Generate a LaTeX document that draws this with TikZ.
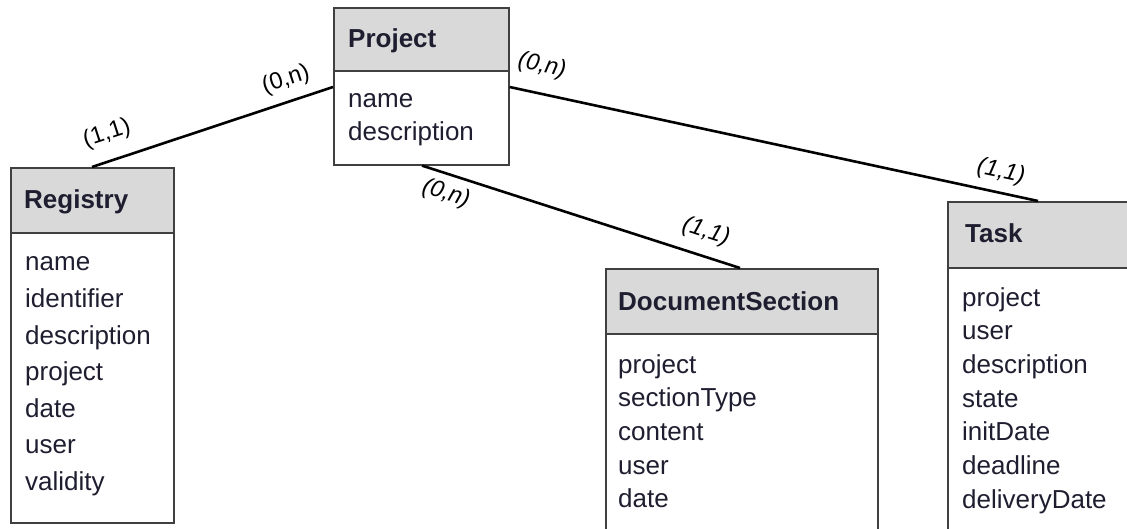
\documentclass[tikz,border=0pt]{standalone}
\usepackage{fontspec}
\setmainfont{Liberation Sans}
\usetikzlibrary{calc}
\definecolor{hdrgray}{HTML}{D9D9D9}
\definecolor{boxline}{HTML}{404040}
\definecolor{txt}{HTML}{1E1E30}
\tikzset{
  entbox/.style={draw=boxline, line width=1.6pt, fill=white, inner sep=0pt, anchor=north west},
  hdrbox/.style={draw=boxline, line width=1.6pt, fill=hdrgray, inner sep=0pt, anchor=north west},
  hdrtext/.style={font=\fontsize{26}{30}\selectfont\bfseries, text=txt, inner sep=0pt, anchor=base west},
  attr/.style={font=\fontsize{26}{30}\selectfont, text=txt, inner sep=0pt, anchor=base west},
  card/.style={font=\fontsize{23.5}{26}\selectfont, text=black, inner sep=0pt},
  cardit/.style={font=\fontsize{23.5}{26}\selectfont\itshape, text=black, inner sep=0pt},
  rel/.style={draw=black, line width=2.6pt}
}
\begin{document}
\begin{tikzpicture}[x=1pt,y=-1pt]
\path[use as bounding box] (0,0) rectangle (1127,529);
\clip (0,0) rectangle (1127,529);

% Project
\node[entbox, minimum width=175pt, minimum height=157pt] (project) at (333,7) {};
\node[hdrbox, minimum width=175pt, minimum height=63pt] (projectH) at (project.north west) {};
\node[hdrtext] (projectT) at ($(project.north west)+(15,41)$) {Project};
\foreach \t [count=\i, evaluate=\i as \yy using 101+33*(\i-1)] in {name, description}
  \node[attr] (projectA\i) at ($(project.north west)+(15,\yy)$) {\t};

% Registry
\node[entbox, minimum width=163pt, minimum height=355pt] (registry) at (10,167) {};
\node[hdrbox, minimum width=163pt, minimum height=65pt] (registryH) at (registry.north west) {};
\node[hdrtext] (registryT) at ($(registry.north west)+(14,42)$) {Registry};
\foreach \t [count=\i, evaluate=\i as \yy using 104+36.5*(\i-1)] in {name, identifier, description, project, date, user, validity}
  \node[attr] (registryA\i) at ($(registry.north west)+(15,\yy)$) {\t};

% DocumentSection
\node[entbox, minimum width=272pt, minimum height=320pt] (doc) at (605,268) {};
\node[hdrbox, minimum width=272pt, minimum height=65pt] (docH) at (doc.north west) {};
\node[hdrtext] (docT) at ($(doc.north west)+(13,42)$) {DocumentSection};
\foreach \t [count=\i, evaluate=\i as \yy using 105+33.67*(\i-1)] in {project, sectionType, content, user, date}
  \node[attr] (docA\i) at ($(doc.north west)+(13,\yy)$) {\t};

% Task
\node[entbox, minimum width=260pt, minimum height=400pt] (task) at (947,201) {};
\node[hdrbox, minimum width=260pt, minimum height=66pt] (taskH) at (task.north west) {};
\node[hdrtext] (taskT) at ($(task.north west)+(18,42)$) {Task};
\foreach \t [count=\i, evaluate=\i as \yy using 105+33.67*(\i-1)] in {project, user, description, state, initDate, deadline, deliveryDate}
  \node[attr] (taskA\i) at ($(task.north west)+(15,\yy)$) {\t};

% relationships
\draw[rel] ($(registry.north west)+(82,0)$) -- ($(project.north west)+(0,80)$);
\draw[rel] ($(project.north east)+(0,80)$) -- ($(task.north west)+(91,0)$);
\draw[rel] ($(project.south west)+(89,0)$) -- ($(doc.north west)+(135,0)$);

% cardinalities
\node[card, rotate=18] (c1) at (107,134) {(1,1)};
\node[card, rotate=18] (c2) at (286,80) {(0,n)};
\node[cardit, rotate=-12] (c3) at (542,66) {(0,n)};
\node[cardit, rotate=-12] (c4) at (1001,172) {(1,1)};
\node[cardit, rotate=-18] (c5) at (446,194) {(0,n)};
\node[cardit, rotate=-18] (c6) at (706,232) {(1,1)};
\end{tikzpicture}
\end{document}
